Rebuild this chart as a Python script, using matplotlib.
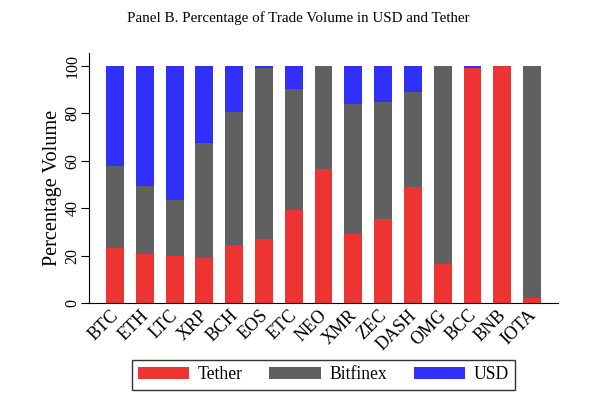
import matplotlib
matplotlib.use("Agg")
import matplotlib.pyplot as plt
import matplotlib.transforms as mtransforms
import numpy as np

coins = ["BTC", "ETH", "LTC", "XRP", "BCH", "EOS", "ETC", "NEO",
         "XMR", "ZEC", "DASH", "OMG", "BCC", "BNB", "IOTA"]
tether = [23.1, 20.7, 19.8, 18.9, 24.5, 27.1, 39.2, 56.4,
          29.0, 35.4, 48.9, 16.3, 99.0, 100.0, 2.2]
bitfinex = [34.7, 28.8, 23.7, 48.7, 56.2, 72.3, 51.0, 43.6,
            55.1, 49.6, 40.3, 83.7, 0.0, 0.0, 97.8]
usd = [42.2, 50.5, 56.5, 32.4, 19.3, 0.6, 9.8, 0.0,
       15.9, 15.0, 10.8, 0.0, 1.0, 0.0, 0.0]

plt.rcParams["font.family"] = ["Liberation Serif", "DejaVu Serif"]

fig = plt.figure(figsize=(6, 3.99), dpi=100)
ax = fig.add_axes((0.148, 0.2406, 0.782, 0.6264))

x = np.arange(len(coins))
tether = np.array(tether)
bitfinex = np.array(bitfinex)
usd = np.array(usd)
red, grey, blue = "#ee3333", "#606060", "#3030fa"

ax.bar(x, tether, width=0.6, color=red, label="Tether")
ax.bar(x, bitfinex, width=0.6, bottom=tether, color=grey, label="Bitfinex")
ax.bar(x, usd, width=0.6, bottom=tether + bitfinex, color=blue, label="USD")

ax.set_xlim(-0.88, 14.87)
ax.set_ylim(0, 105.5)
ax.set_yticks([0, 20, 40, 60, 80, 100])
ax.tick_params(axis="y", direction="out", length=6, labelsize=11.5, width=0.8, pad=0)
for lab in ax.get_yticklabels():
    lab.set_rotation(90)
    lab.set_va("center")
ax.set_xticks(x)
ax.set_xticklabels(coins, rotation=45, ha="right", va="top",
                   rotation_mode="anchor", fontsize=13)
ax.tick_params(axis="x", length=0, pad=2)
# pull the slanted labels left so their ends sit under the bars
shift = mtransforms.ScaledTranslation(-0.05, -0.01, fig.dpi_scale_trans)
for lab in ax.get_xticklabels():
    lab.set_transform(lab.get_transform() + shift)
ax.spines["top"].set_visible(False)
ax.spines["right"].set_visible(False)
ax.set_ylabel("Percentage Volume", fontsize=14.6)
ax.yaxis.set_label_coords(-0.058, 0.462)

fig.text(0.497, 0.955, "Panel B. Percentage of Trade Volume in USD and Tether",
         ha="center", va="center", fontsize=10.8)

leg = ax.legend(loc="center", bbox_to_anchor=(0.5, -0.288), ncol=3,
                fontsize=12.7, frameon=True, fancybox=False, edgecolor="black",
                handlelength=2.9, handleheight=0.68, handletextpad=0.5,
                columnspacing=1.5, borderpad=0.35)
leg.get_frame().set_linewidth(1.0)

fig.savefig("out.png", dpi=100)
